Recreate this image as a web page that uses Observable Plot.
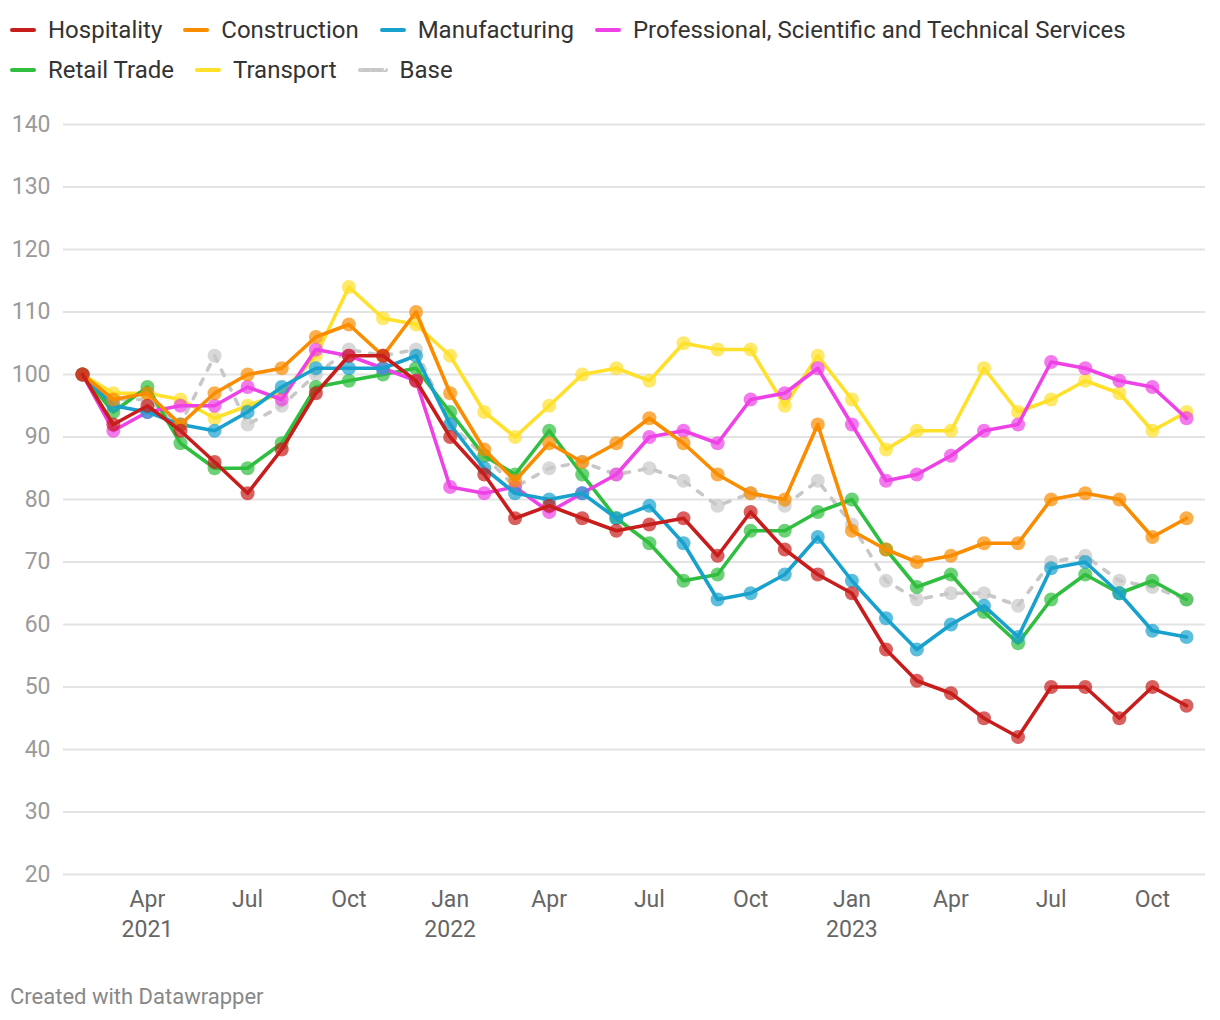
<!DOCTYPE html>
<html>
<head>
<meta charset="utf-8">
<script src="https://cdn.jsdelivr.net/npm/d3@7"></script>
<script src="https://cdn.jsdelivr.net/npm/@observablehq/plot@0.6"></script>
<style>
  html, body { margin: 0; padding: 0; background: #fff; }
  body { width: 1220px; height: 1020px; position: relative; font-family: Roboto, "Noto Sans", sans-serif; overflow: hidden; }
  #legend { display: flex; flex-wrap: wrap; padding: 10px 0 0 10px; width: 1210px; box-sizing: border-box; }
  .item { display: flex; align-items: center; height: 40px; margin-right: 21px; font-size: 24px; color: #333; }
  .sw { width: 26px; height: 0; border-top: 4px solid; border-radius: 2px; margin-right: 12px; }
  .sw.dash { border-top-style: dashed; width: 30px; }
  #chart { position: absolute; top: 90px; left: 0; }
  #footer { position: absolute; left: 10px; top: 984px; font-size: 22px; color: #888; }
</style>
</head>
<body>
<div id="legend"></div>
<div id="chart"></div>
<div id="footer">Created with Datawrapper</div>
<script>
const months = ["2021-02-01","2021-03-01","2021-04-01","2021-05-01","2021-06-01","2021-07-01","2021-08-01","2021-09-01","2021-10-01","2021-11-01","2021-12-01",
  "2022-01-01","2022-02-01","2022-03-01","2022-04-01","2022-05-01","2022-06-01","2022-07-01","2022-08-01","2022-09-01","2022-10-01","2022-11-01","2022-12-01",
  "2023-01-01","2023-02-01","2023-03-01","2023-04-01","2023-05-01","2023-06-01","2023-07-01","2023-08-01","2023-09-01","2023-10-01","2023-11-01"];

const hospitality   = [100,92,95,91,86,81,88,97,103,103,99,90,84,77,79,77,75,76,77,71,78,72,68,65,56,51,49,45,42,50,50,45,50,47];
const construction  = [100,96,97,92,97,100,101,106,108,103,110,97,88,83,89,86,89,93,89,84,81,80,92,75,72,70,71,73,73,80,81,80,74,77];
const manufacturing = [100,95,94,92,91,94,98,101,101,101,103,92,85,81,80,81,77,79,73,64,65,68,74,67,61,56,60,63,58,69,70,65,59,58];
const professional  = [100,91,94,95,95,98,96,104,103,101,99,82,81,82,78,81,84,90,91,89,96,97,101,92,83,84,87,91,92,102,101,99,98,93];
const retail        = [100,94,98,89,85,85,89,98,99,100,101,94,87,84,91,84,77,73,67,68,75,75,78,80,72,66,68,62,57,64,68,65,67,64];
const transport     = [100,97,97,96,93,95,97,103,114,109,108,103,94,90,95,100,101,99,105,104,104,95,103,96,88,91,91,101,94,96,99,97,91,94];
const base          = [100,96,96,92,103,92,95,100,104,103,104,92,87,82,85,86,84,85,83,79,81,79,83,76,67,64,65,65,63,70,71,67,66,64];

const seriesNames  = ["Hospitality","Construction","Manufacturing","Professional, Scientific and Technical Services","Retail Trade","Transport","Base"];
const seriesValues = [hospitality, construction, manufacturing, professional, retail, transport, base];
const seriesColors = ["#c71e1d","#fa8c00","#18a1cd","#ee42e6","#2fbe3f","#ffe02b","#c8c8c8"];

const yTicks = [20,30,40,50,60,70,80,90,100,110,120,130,140];
const xTicks = ["2021-04-01","2021-07-01","2021-10-01","2022-01-01","2022-04-01","2022-07-01","2022-10-01","2023-01-01","2023-04-01","2023-07-01","2023-10-01"];
const xTickLabels = ["Apr\n2021","Jul","Oct","Jan\n2022","Apr","Jul","Oct","Jan\n2023","Apr","Jul","Oct"];

// legend
const legend = document.getElementById("legend");
seriesNames.forEach((n, i) => {
  const it = document.createElement("div");
  it.className = "item";
  const sw = document.createElement("span");
  sw.className = "sw" + (n === "Base" ? " dash" : "");
  sw.style.borderTopColor = seriesColors[i];
  it.appendChild(sw);
  const t = document.createElement("span");
  t.textContent = n;
  it.appendChild(t);
  legend.appendChild(it);
});

const parse = d3.utcParse("%Y-%m-%d");
const tickDates = xTicks.map(parse);
const labelMap = new Map(tickDates.map((d, i) => [+d, xTickLabels[i]]));

const marks = [
  Plot.gridY(yTicks, {stroke: "#e3e3e3", strokeOpacity: 1, strokeWidth: 2}),
  Plot.axisY(yTicks, {tickSize: 0, tickPadding: 13, fontSize: 23, fill: "#9a9a9a", label: null}),
  Plot.axisX(tickDates, {tickSize: 0, tickPadding: 11, fontSize: 23, fill: "#666", label: null, lineHeight: 1.32,
    tickFormat: d => labelMap.get(+d)})
];

for (let k = seriesNames.length - 1; k >= 0; k--) {
  const rows = seriesValues[k].map((v, i) => ({date: parse(months[i]), value: v}));
  const isBase = seriesNames[k] === "Base";
  marks.push(Plot.line(rows, {x: "date", y: "value", stroke: seriesColors[k], strokeWidth: 3.6,
    strokeDasharray: isBase ? "6,10" : null, strokeLinecap: "round", strokeLinejoin: "round"}));
  marks.push(Plot.dot(rows, {x: "date", y: "value", r: 7, fill: seriesColors[k], fillOpacity: 0.7, stroke: "none"}));
}

const chart = Plot.plot({
  width: 1220,
  height: 870,
  marginTop: 34,
  marginBottom: 86,
  marginLeft: 63,
  marginRight: 15,
  style: {fontFamily: "Roboto, sans-serif", background: "#fff", overflow: "visible"},
  x: {type: "utc", domain: [parse(months[0]), parse(months[months.length - 1])], insetLeft: 19, insetRight: 19},
  y: {domain: [20, 140]},
  marks
});
document.getElementById("chart").appendChild(chart);
</script>
</body>
</html>
